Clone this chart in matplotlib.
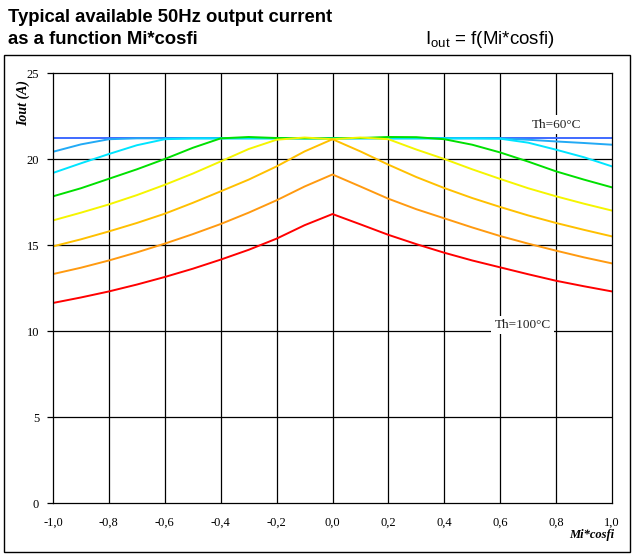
import matplotlib
matplotlib.use("Agg")
import matplotlib.pyplot as plt
from matplotlib.patches import Rectangle

x = [-1.0, -0.9, -0.8, -0.7, -0.6, -0.5, -0.4, -0.3, -0.2, -0.1, 0.0,
     0.1, 0.2, 0.3, 0.4, 0.5, 0.6, 0.7, 0.8, 0.9, 1.0]

blue = [21.2] * 21
lightblue = [20.42, 20.85, 21.15, 21.2, 21.2, 21.2, 21.2, 21.2, 21.2, 21.2, 21.2,
             21.2, 21.2, 21.2, 21.2, 21.2, 21.2, 21.12, 21.02, 20.93, 20.83]
cyan = [19.19, 19.75, 20.29, 20.8, 21.15, 21.2, 21.2, 21.2, 21.2, 21.2, 21.2,
        21.2, 21.2, 21.2, 21.2, 21.2, 21.18, 20.95, 20.54, 20.1, 19.57]
green = [17.83, 18.3, 18.85, 19.4, 20.0, 20.65, 21.2, 21.28, 21.22, 21.2, 21.2,
         21.22, 21.28, 21.27, 21.15, 20.83, 20.38, 19.85, 19.28, 18.8, 18.35]
yellow = [16.43, 16.88, 17.36, 17.9, 18.5, 19.15, 19.86, 20.58, 21.12, 21.25, 21.15,
          21.25, 21.15, 20.55, 20.0, 19.4, 18.84, 18.3, 17.83, 17.4, 17.0]
gold = [14.92, 15.33, 15.79, 16.28, 16.82, 17.45, 18.12, 18.8, 19.57, 20.44, 21.15,
        20.44, 19.67, 18.95, 18.31, 17.73, 17.21, 16.72, 16.28, 15.88, 15.5]
orange = [13.31, 13.68, 14.1, 14.57, 15.08, 15.63, 16.22, 16.88, 17.6, 18.4, 19.1,
          18.4, 17.69, 17.08, 16.55, 16.02, 15.52, 15.08, 14.67, 14.28, 13.93]
red = [11.63, 11.95, 12.3, 12.7, 13.14, 13.62, 14.15, 14.72, 15.37, 16.15, 16.8,
       16.2, 15.59, 15.05, 14.55, 14.1, 13.7, 13.3, 12.92, 12.6, 12.3]

series = [blue, lightblue, cyan, green, yellow, gold, orange, red]
colors = ["#3F6AFF", "#22AAF5", "#00E5FF", "#00E000", "#F5F500", "#FFC000", "#FF9A10", "#FF0000"]

xticks = [-1.0, -0.8, -0.6, -0.4, -0.2, 0.0, 0.2, 0.4, 0.6, 0.8, 1.0]
xticklabels = ["-1,0", "-0,8", "-0,6", "-0,4", "-0,2", "0,0", "0,2", "0,4", "0,6", "0,8", "1,0"]
yticks = [0, 5, 10, 15, 20, 25]

W, H = 632, 554
fig = plt.figure(figsize=(W / 100, H / 100), dpi=100)
fig.patch.set_facecolor("white")

ax = fig.add_axes([53 / W, 1 - 503 / H, 559 / W, 430 / H])
ax.set_xlim(-1.0, 1.0)
ax.set_ylim(0, 25)

for v in xticks[1:-1]:
    ax.axvline(v, color="black", lw=0.9, zorder=1)
for v in yticks[1:-1]:
    ax.axhline(v, color="black", lw=0.9, zorder=1)

for ys, c in zip(series, colors):
    ax.plot(x, ys, color=c, lw=1.4, zorder=2, solid_capstyle="round")

serif = "Liberation Serif"
ax.set_xticks(xticks)
ax.set_xticklabels(xticklabels, fontfamily=serif, fontsize=9)
ax.set_yticks(yticks)
ax.set_yticklabels([str(v) for v in yticks], fontfamily=serif, fontsize=9)
ax.tick_params(axis="x", length=0, pad=10)
ax.tick_params(axis="y", length=4, width=0.9, direction="out", pad=6)
for s in ax.spines.values():
    s.set_linewidth(0.9)
    s.set_color("black")

ax.text(0.80, 22.0, "Th=60°C", fontfamily=serif, fontsize=9.5, ha="center", va="center",
        color="#222222", zorder=5,
        bbox=dict(boxstyle="square,pad=0.25", fc="white", ec="none"))
ax.text(0.68, 10.35, "Th=100°C", fontfamily=serif, fontsize=9.5, ha="center", va="center",
        color="#222222", zorder=5,
        bbox=dict(boxstyle="square,pad=0.25", fc="white", ec="none"))

fig.text(23 / W, 1 - 103 / H, "Iout (A)", fontfamily=serif, fontsize=10, fontweight="bold",
         fontstyle="italic", rotation=90, ha="center", va="center")
fig.text(592 / W, 1 - 535 / H, "Mi*cosfi", fontfamily=serif, fontsize=9, fontweight="bold",
         fontstyle="italic", ha="center", va="center")

fig.text(8 / W, 1 - 17 / H, "Typical available 50Hz output current", fontfamily="Liberation Sans",
         fontsize=13.3, fontweight="bold", ha="left", va="center")
fig.text(8 / W, 1 - 39 / H, "as a function Mi*cosfi", fontfamily="Liberation Sans",
         fontsize=13.3, fontweight="bold", ha="left", va="center")
fig.text(425 / W, 1 - 39 / H, r"I$_{\mathregular{out}}$ = f(Mi*cosfi)", fontfamily="Liberation Sans",
         fontsize=13.5, ha="left", va="center")

fig.patches.append(Rectangle((4 / W, 1 - 551.5 / H), 626 / W, 496.5 / H, transform=fig.transFigure,
                             fill=False, ec="black", lw=1.0))

fig.savefig("out.png", dpi=100)
